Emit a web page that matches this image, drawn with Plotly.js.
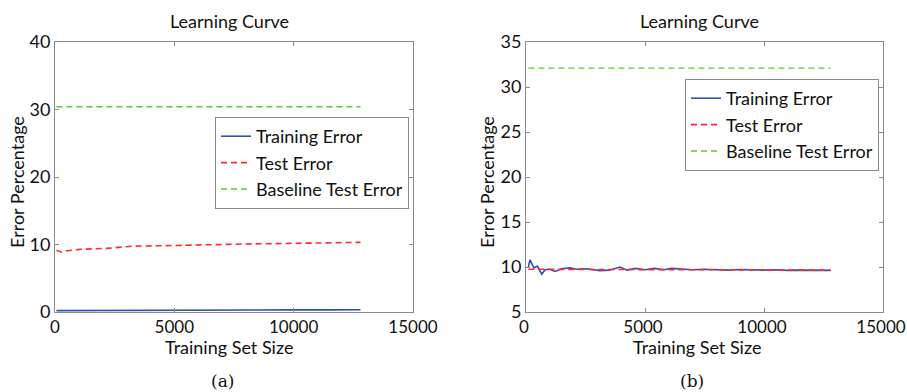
<!DOCTYPE html>
<html><head><meta charset="utf-8">
<script src="https://cdn.plot.ly/plotly-3.0.1.min.js"></script>
<style>html,body{margin:0;padding:0;background:#fff}</style>
</head><body><div id="chart" style="width:907px;height:392px"></div>
<script>
// Panel (a)
const xA = [60, 280, 490, 1050, 2170, 3280, 4960, 6500, 8000, 10000, 11500, 12800];
const trainA = [0.2, 0.2, 0.2, 0.2, 0.22, 0.24, 0.25, 0.27, 0.29, 0.31, 0.32, 0.33];
const testA = [9.15, 8.85, 9.08, 9.28, 9.43, 9.75, 9.85, 10.0, 10.08, 10.17, 10.25, 10.32];
const baseA = [30.4, 30.4];
const baseXA = [60, 12800];

// Panel (b)
const xB = [100, 170, 330, 480, 660, 800, 1000, 1220, 1500, 1850, 2130, 2550, 3100, 3500, 3950, 4250, 4600, 5000, 5400, 5800, 6100, 6500, 7000, 7500, 8000, 8500, 9000, 9500, 10000, 10500, 11000, 11500, 12000, 12500, 12800];
const trainB = [10.0, 10.8, 9.9, 10.1, 9.2, 9.7, 9.75, 9.5, 9.8, 9.9, 9.75, 9.8, 9.6, 9.65, 10.0, 9.65, 9.85, 9.7, 9.85, 9.7, 9.85, 9.75, 9.7, 9.75, 9.7, 9.65, 9.72, 9.68, 9.65, 9.7, 9.62, 9.65, 9.62, 9.65, 9.62];
const testB = [9.75, 9.75, 9.72, 9.75, 9.7, 9.72, 9.7, 9.72, 9.72, 9.7, 9.72, 9.7, 9.72, 9.7, 9.72, 9.7, 9.72, 9.7, 9.7, 9.72, 9.7, 9.68, 9.7, 9.7, 9.68, 9.7, 9.68, 9.66, 9.66, 9.64, 9.62, 9.64, 9.65, 9.65, 9.65];
const baseB = [32.1, 32.1];
const baseXB = [100, 12800];

const seriesNames = ['Training Error', 'Test Error', 'Baseline Test Error'];
const xTicks = [0, 5000, 10000, 15000];
const xTickText = ['0', '5000', '10000', '15000'];
const yTicksA = [0, 10, 20, 30, 40];
const yTicksB = [5, 10, 15, 20, 25, 30, 35];

const BLUE = '#3050b8', RED = '#ff2a2a', GREEN = '#55cc33';
const FONT = 'Lato, "Open Sans", sans-serif';

const W = 907, H = 392;
const px = v => v / W, py = v => 1 - v / H;

const traces = [
  {x: xA, y: trainA, name: seriesNames[0], mode: 'lines', line: {color: BLUE, width: 1.6}, xaxis: 'x', yaxis: 'y', legend: 'legend'},
  {x: xA, y: testA, name: seriesNames[1], mode: 'lines', line: {color: RED, width: 1.6, dash: '6px,4px'}, xaxis: 'x', yaxis: 'y', legend: 'legend'},
  {x: baseXA, y: baseA, name: seriesNames[2], mode: 'lines', line: {color: GREEN, width: 1.4, dash: '6px,4px'}, xaxis: 'x', yaxis: 'y', legend: 'legend'},
  {x: xB, y: trainB, name: seriesNames[0], mode: 'lines', line: {color: BLUE, width: 1.6}, xaxis: 'x2', yaxis: 'y2', legend: 'legend2'},
  {x: xB, y: testB, name: seriesNames[1], mode: 'lines', line: {color: RED, width: 1.6, dash: '6px,4px'}, xaxis: 'x2', yaxis: 'y2', legend: 'legend2'},
  {x: baseXB, y: baseB, name: seriesNames[2], mode: 'lines', line: {color: GREEN, width: 1.4, dash: '6px,4px'}, xaxis: 'x2', yaxis: 'y2', legend: 'legend2'}
];

const axBase = {
  showgrid: false, zeroline: false, showline: true, linecolor: '#8a8a8a', linewidth: 1,
  mirror: 'ticks', ticks: 'inside', ticklen: 4, tickcolor: '#8a8a8a',
  tickfont: {family: FONT, size: 18, color: '#111'}, fixedrange: true,
  ticklabeloverflow: 'allow'
};
const xTickFont = {family: FONT, size: 17, color: '#111'};
const yDom = [1 - 312 / H, 1 - 42 / H];

const legendBase = {
  bgcolor: '#fff', bordercolor: '#8a8a8a', borderwidth: 1,
  font: {family: FONT, size: 18, color: '#111'}, itemwidth: 30,
  xanchor: 'right', yanchor: 'top', tracegroupgap: 0, traceorder: 'normal'
};

const ann = (text, x, y, opts = {}) => Object.assign({
  text, x: px(x), y: py(y), xref: 'paper', yref: 'paper', showarrow: false,
  xanchor: 'center', yanchor: 'middle', font: {family: FONT, size: 18, color: '#111'}
}, opts);

const layout = {
  width: W, height: H, margin: {l: 0, r: 0, t: 0, b: 0},
  paper_bgcolor: '#fff', plot_bgcolor: '#fff', showlegend: true,
  xaxis: Object.assign({}, axBase, {domain: [px(55), px(413)], range: [0, 15000], tickvals: xTicks, ticktext: xTickText, tickfont: xTickFont, anchor: 'y'}),
  yaxis: Object.assign({}, axBase, {domain: yDom, range: [0, 40], tickvals: yTicksA, anchor: 'x'}),
  xaxis2: Object.assign({}, axBase, {domain: [px(526), px(883)], range: [0, 15000], tickvals: xTicks, ticktext: xTickText, tickfont: xTickFont, ticklabelshift: -2, anchor: 'y2'}),
  yaxis2: Object.assign({}, axBase, {domain: yDom, range: [5, 35], tickvals: yTicksB, anchor: 'x2'}),
  legend: Object.assign({}, legendBase, {x: px(409), y: py(117)}),
  legend2: Object.assign({}, legendBase, {x: px(879), y: py(79)}),
  annotations: [
    ann('Learning Curve', 229, 21, {font: {family: FONT, size: 18, color: '#111'}}),
    ann('Learning Curve', 699, 21, {font: {family: FONT, size: 18, color: '#111'}}),
    ann('Training Set Size', 229, 347),
    ann('Training Set Size', 697, 347),
    ann('Error Percentage', 17, 182, {textangle: -90}),
    ann('Error Percentage', 487, 182, {textangle: -90}),
    ann('(a)', 222, 381, {font: {family: '"DejaVu Serif", serif', size: 17, color: '#111'}}),
    ann('(b)', 692, 381, {font: {family: '"DejaVu Serif", serif', size: 17, color: '#111'}})
  ]
};

Plotly.newPlot('chart', traces, layout, {displayModeBar: false, staticPlot: true});
</script></body></html>
